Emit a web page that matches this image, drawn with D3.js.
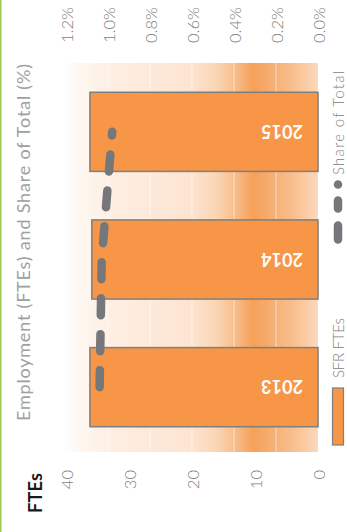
<!DOCTYPE html>
<html>
<head>
<meta charset="utf-8">
<script src="https://cdn.jsdelivr.net/npm/d3@7"></script>
<style>
  html, body { margin: 0; padding: 0; background: #ffffff; }
  svg { display: block; }
</style>
</head>
<body>
<div id="chart"></div>
<script>
// ---- data ----
const years = ["2013", "2014", "2015"];
const fteValues = [36.2, 35.9, 36.2];
const shareValues = [0.0104, 0.0103, 0.0098];
const fteTicks = [0, 10, 20, 30, 40];
const shareTicks = [0, 0.002, 0.004, 0.006, 0.008, 0.010, 0.012];
const seriesNames = ["SFR FTEs", "Share of Total"];
const titleText = "Employment (FTEs) and Share of Total (%)";
const leftAxisTitle = "FTEs";

// ---- layout (chart is drawn in an unrotated frame, then turned -90deg) ----
const W = 347, H = 532;

const svg = d3.select("#chart").append("svg")
  .attr("width", W).attr("height", H);

// green border line on the left edge
svg.append("line")
  .attr("x1", 0.75).attr("x2", 0.75).attr("y1", 0).attr("y2", H)
  .attr("stroke", "#9bc853").attr("stroke-width", 1.5);

const g = svg.append("g").attr("transform", `translate(0,${H}) rotate(-90)`);

const font = "Lato, 'Open Sans', 'Liberation Sans', sans-serif";

const x = d3.scaleBand().domain(years).range([81, 464])
  .paddingInner(0.38).paddingOuter(0.19);
const yL = d3.scaleLinear().domain([0, 40]).range([318, 66]);
const yR = d3.scaleLinear().domain([0, 0.012]).range([318, 66]);

// background gradient
const defs = svg.append("defs");
const grad = defs.append("linearGradient").attr("id", "bg")
  .attr("x1", 0).attr("y1", 0).attr("x2", 0).attr("y2", 1);
[[0, "#ffffff"], [0.08, "#fef6ef"], [0.2, "#fdeee2"], [0.5, "#fde4d1"],
 [0.6, "#fbd6b6"], [0.68, "#f8bb87"], [0.745, "#f5a159"], [0.8, "#f6ab6c"],
 [0.9, "#f8be8d"], [1, "#fcd9bd"]]
  .forEach(([o, c]) => grad.append("stop").attr("offset", o).attr("stop-color", c));

g.append("rect")
  .attr("x", 80).attr("y", 63)
  .attr("width", 389).attr("height", yL(0) - 63)
  .attr("fill", "url(#bg)");

// faint gridlines
g.append("g").selectAll("line")
  .data(shareTicks.filter(t => t > 0 && t < 0.012))
  .join("line")
  .attr("x1", 80).attr("x2", 469)
  .attr("y1", d => yR(d)).attr("y2", d => yR(d))
  .attr("stroke", "#ffffff").attr("stroke-opacity", 0.55).attr("stroke-width", 1);

// bars
g.append("g").selectAll("rect")
  .data(years.map((y, i) => ({ y, v: fteValues[i] })))
  .join("rect")
  .attr("x", d => x(d.y))
  .attr("width", x.bandwidth())
  .attr("y", d => yL(d.v))
  .attr("height", d => yL(0) - yL(d.v))
  .attr("fill", "#f79646")
  .attr("stroke", "#7f7f7f").attr("stroke-width", 1.5);

// bar labels
g.append("g").selectAll("text")
  .data(years)
  .join("text")
  .attr("transform", d => `translate(${x(d) + x.bandwidth() / 2},282) rotate(-90)`)
  .attr("text-anchor", "middle").attr("dominant-baseline", "central")
  .attr("font-family", font).attr("font-weight", "bold").attr("font-size", 18)
  .attr("fill", "#ffffff")
  .text(d => d);

// share line
const line = d3.line()
  .x((d, i) => x(years[i]) + x.bandwidth() / 2)
  .y(d => yR(d));
g.append("path")
  .datum(shareValues)
  .attr("d", line)
  .attr("fill", "none")
  .attr("stroke", "#76777a").attr("stroke-width", 8.5)
  .attr("stroke-linecap", "round")
  .attr("stroke-dasharray", "17,19");

// left axis (FTEs)
const axL = g.append("g").attr("transform", "translate(62,0)")
  .call(d3.axisLeft(yL).tickValues(fteTicks).tickSize(0).tickPadding(0));
axL.select(".domain").remove();
axL.selectAll("text")
  .attr("font-family", font).attr("font-size", 16.5).attr("font-weight", 300)
  .attr("fill", "#808080")
  .attr("dy", null).attr("dominant-baseline", "central");

// right axis (share)
const axR = g.append("g").attr("transform", "translate(489,0)")
  .call(d3.axisRight(yR).tickValues(shareTicks).tickFormat(d3.format(".1%")).tickSize(0).tickPadding(0));
axR.select(".domain").remove();
axR.selectAll("text")
  .attr("font-family", font).attr("font-size", 16.5).attr("font-weight", 300)
  .attr("fill", "#808080")
  .attr("dy", null).attr("dominant-baseline", "central");

// title
g.append("text")
  .attr("x", 289.5).attr("y", 23)
  .attr("text-anchor", "middle").attr("dominant-baseline", "central")
  .attr("font-family", font).attr("font-size", 18).attr("fill", "#a0a0a0")
  .attr("textLength", 357).attr("lengthAdjust", "spacing")
  .text(titleText);

// left axis title
g.append("text")
  .attr("x", 19).attr("y", 35)
  .attr("dominant-baseline", "central")
  .attr("font-family", font).attr("font-weight", "bold").attr("font-size", 18)
  .attr("fill", "#1a1a1a")
  .attr("textLength", 40).attr("lengthAdjust", "spacing")
  .text(leftAxisTitle);

// legend
const lg = g.append("g").attr("transform", "translate(0,338)");
lg.append("rect")
  .attr("x", 87).attr("y", -5.5).attr("width", 57).attr("height", 11)
  .attr("fill", "#f79646").attr("stroke", "#7f7f7f").attr("stroke-width", 1.2);
lg.append("text")
  .attr("x", 154).attr("y", 0).attr("dominant-baseline", "central")
  .attr("font-family", font).attr("font-size", 15).attr("font-weight", 300)
  .attr("fill", "#808080")
  .attr("textLength", 60).attr("lengthAdjust", "spacing")
  .text(seriesNames[0]);
lg.append("line")
  .attr("x1", 292.5).attr("x2", 349).attr("y1", 0).attr("y2", 0)
  .attr("stroke", "#76777a").attr("stroke-width", 8.5)
  .attr("stroke-linecap", "round")
  .attr("stroke-dasharray", "14,17,8,16,0,100");
lg.append("text")
  .attr("x", 357).attr("y", 0).attr("dominant-baseline", "central")
  .attr("font-family", font).attr("font-size", 15).attr("font-weight", 300)
  .attr("fill", "#808080")
  .attr("textLength", 104).attr("lengthAdjust", "spacing")
  .text(seriesNames[1]);
</script>
</body>
</html>
